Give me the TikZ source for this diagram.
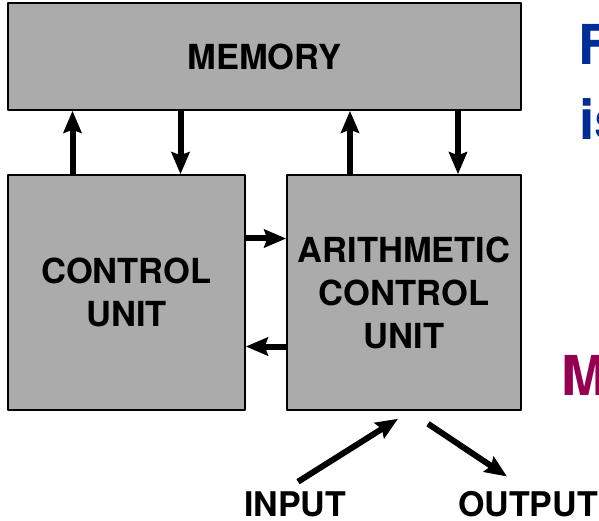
\documentclass[tikz,border=0pt]{standalone}
\usepackage{fontspec}
\setmainfont{TeX Gyre Heros}
\usetikzlibrary{arrows.meta}
\definecolor{slideblue}{RGB}{0,45,150}
\definecolor{slidered}{RGB}{150,0,80}

\begin{document}
\begin{tikzpicture}[x=1pt, y=-1pt, >={Stealth[length=22pt, width=18pt, inset=3pt]}, line join=round,
	unit/.style={draw, line width=1.6pt, fill=gray!66, font=\fontsize{34.5}{43}\selectfont\bfseries, align=center, inner sep=0pt},
	flow/.style={->, line width=6pt},
	iolabel/.style={font=\fontsize{34}{40}\selectfont\bfseries, inner sep=2pt},
	cut/.style={font=\fontsize{55}{60}\selectfont\bfseries, anchor=base west, inner sep=0pt}]
	\clip (0,0) rectangle (599,521);
	\node[unit, minimum width=513pt, minimum height=107pt] (mem) at (264.5,56.5) {MEMORY};
	\node[unit, minimum width=237pt, minimum height=235pt] (cu) at (126.5,292.5) {CONTROL\\UNIT};
	\node[unit, minimum width=234pt, minimum height=235pt] (alu) at (404,292.5) {ARITHMETIC\\CONTROL\\UNIT};
	\foreach \b in {cu, alu} {
		\draw[flow] ([xshift=-54pt]\b.north) -- ([xshift=-54pt]\b.north |- mem.south);
		\draw[flow] ([xshift=54pt]\b.north |- mem.south) -- ([xshift=54pt]\b.north);
	}
	\draw[flow] ([yshift=54pt]cu.east) -- ([yshift=54pt]cu.east -| alu.west);
	\draw[flow] ([yshift=-54pt]cu.east -| alu.west) -- ([yshift=-54pt]cu.east);
	\node[iolabel] (in) at (295,504.5) {INPUT};
	\node[iolabel] (out) at (528,504.5) {OUTPUT};
	\draw[flow] ([xshift=3pt, yshift=8pt]in.north) -- ([xshift=-6pt, yshift=-8pt]alu.south);
	\draw[flow] ([xshift=24pt, yshift=-13pt]alu.south) -- ([xshift=-21pt, yshift=13pt]out.north);
	\node[cut, text=slideblue] (f) at (578,65) {F};
	\node[cut, text=slideblue] (is) at (579,140) {is};
	\node[cut, text=slidered] (m) at (561,395) {M};
\end{tikzpicture}
\end{document}
